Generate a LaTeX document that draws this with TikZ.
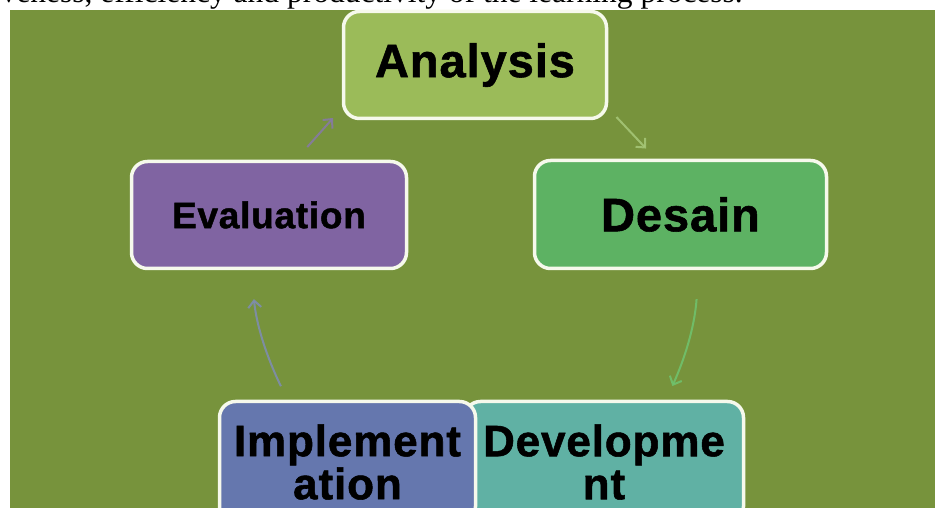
\documentclass[tikz,border=0pt]{standalone}
\usepackage{fontspec}
\setmainfont{Liberation Sans}
\newfontfamily\captionserif{Liberation Serif}
\newfontfamily\stagefont{Liberation Sans}[BoldFeatures={FakeBold=1.2}, LetterSpace=2]
\usetikzlibrary{arrows.meta}
\definecolor{olivebg}{HTML}{77933C}
\definecolor{rimwhite}{HTML}{F6F9EC}
\definecolor{analysisfill}{HTML}{9BBB59}
\definecolor{desainfill}{HTML}{5DB263}
\definecolor{evalfill}{HTML}{8064A2}
\definecolor{implfill}{HTML}{6577AE}
\definecolor{devfill}{HTML}{60B1A4}
\definecolor{analysisarrow}{HTML}{A8C87A}
\definecolor{desainarrow}{HTML}{6FC46F}
\definecolor{implarrow}{HTML}{7F8DB5}
\definecolor{evalarrow}{HTML}{8779A9}
\tikzset{
stage/.style={draw=rimwhite, line width=3.5pt, rounded corners=16pt, align=center, font=\stagefont\bfseries\fontsize{#1}{43}\selectfont}, % the boxes of the cycle, #1 = font size
cycle arrow/.style={-{Straight Barb[length=7pt,width=13pt]}, line width=2pt, opacity=0.85}, % thin arrows between the boxes
}

\begin{document}
\begin{tikzpicture}[x=1pt, y=1pt]
        \useasboundingbox (0,0) rectangle (935,508);
        \clip (0,0) rectangle (935,508);
        \fill[olivebg] (10,0) rectangle (935,498);
        \node[anchor=base east, inner sep=0pt, font=\captionserif\fontsize{31.5}{34}\selectfont] (caption) at (743,505) {veness, efficiency and productivity of the learning process.};

        \node[stage=47, fill=analysisfill, minimum width=263pt, minimum height=107pt] (analysis) at (475,443) {Analysis};
        \node[stage=47, fill=desainfill, minimum width=292pt, minimum height=108pt] (desain) at (680.5,293.5) {Desain};
        \node[stage=37, fill=evalfill, minimum width=275pt, minimum height=107pt] (evaluation) at (269,293) {Evaluation};
        \node[stage=44, fill=devfill, minimum width=279pt, minimum height=121pt] (development) at (604,46) {Developme\\nt};
        \node[stage=44, fill=implfill, minimum width=256pt, minimum height=121pt] (implementation) at (347.5,46) {Implement\\ation};

        \draw[cycle arrow, draw=analysisarrow, shorten <=12pt, shorten >=14pt] (analysis.-18) -- (desain.114);
        \draw[cycle arrow, draw=desainarrow, shorten <=29pt, shorten >=15pt] (desain.-72) to[bend left=10] (development.45);
        \draw[cycle arrow, draw=implarrow, shorten <=15pt, shorten >=29pt] (implementation.134) to[bend left=10] (evaluation.-108);
        \draw[cycle arrow, draw=evalarrow, shorten <=17pt, shorten >=13pt] (evaluation.64) -- (analysis.198);
    \end{tikzpicture}
\end{document}
